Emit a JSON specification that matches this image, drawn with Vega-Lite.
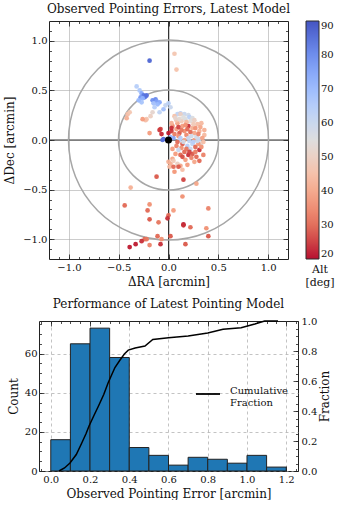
{
  "$schema": "https://vega.github.io/schema/vega-lite/v6.json",
  "padding": {"left": 3, "top": 2, "right": 0, "bottom": 0},
  "columns": 1,
  "bounds": "flush",
  "align": "each",
  "center": true,
  "spacing": 62,
  "datasets": {
    "scatter": [
      {"dRA": -0.19, "dDec": 0.80, "Alt": 86}, {"dRA": 0.06, "dDec": 0.87, "Alt": 47}, {"dRA": 0.08, "dDec": 0.71, "Alt": 46},
      {"dRA": -0.32, "dDec": 0.54, "Alt": 64}, {"dRA": -0.29, "dDec": 0.50, "Alt": 66}, {"dRA": -0.27, "dDec": 0.47, "Alt": 74},
      {"dRA": -0.25, "dDec": 0.45, "Alt": 83}, {"dRA": -0.23, "dDec": 0.44, "Alt": 85}, {"dRA": -0.24, "dDec": 0.43, "Alt": 82},
      {"dRA": -0.22, "dDec": 0.45, "Alt": 84}, {"dRA": -0.28, "dDec": 0.43, "Alt": 78}, {"dRA": -0.26, "dDec": 0.42, "Alt": 72},
      {"dRA": -0.27, "dDec": 0.38, "Alt": 67}, {"dRA": -0.30, "dDec": 0.40, "Alt": 70}, {"dRA": -0.16, "dDec": 0.40, "Alt": 79},
      {"dRA": -0.13, "dDec": 0.41, "Alt": 80}, {"dRA": -0.12, "dDec": 0.39, "Alt": 76}, {"dRA": -0.09, "dDec": 0.38, "Alt": 74},
      {"dRA": -0.11, "dDec": 0.36, "Alt": 70}, {"dRA": -0.15, "dDec": 0.37, "Alt": 68}, {"dRA": -0.14, "dDec": 0.33, "Alt": 64},
      {"dRA": -0.09, "dDec": 0.28, "Alt": 62}, {"dRA": -0.03, "dDec": 0.35, "Alt": 61}, {"dRA": 0.00, "dDec": 0.37, "Alt": 63},
      {"dRA": 0.02, "dDec": 0.33, "Alt": 60}, {"dRA": -0.05, "dDec": 0.31, "Alt": 68}, {"dRA": 0.09, "dDec": 0.26, "Alt": 62},
      {"dRA": 0.12, "dDec": 0.27, "Alt": 64}, {"dRA": 0.16, "dDec": 0.26, "Alt": 60}, {"dRA": 0.20, "dDec": 0.25, "Alt": 58},
      {"dRA": 0.21, "dDec": 0.23, "Alt": 63}, {"dRA": 0.24, "dDec": 0.22, "Alt": 56}, {"dRA": -0.41, "dDec": 0.26, "Alt": 45},
      {"dRA": -0.42, "dDec": 0.22, "Alt": 42}, {"dRA": -0.39, "dDec": 0.28, "Alt": 47}, {"dRA": -0.22, "dDec": 0.21, "Alt": 47},
      {"dRA": -0.18, "dDec": 0.24, "Alt": 50}, {"dRA": -0.16, "dDec": 0.28, "Alt": 52}, {"dRA": -0.23, "dDec": 0.20, "Alt": 45},
      {"dRA": -0.19, "dDec": 0.07, "Alt": 38}, {"dRA": -0.08, "dDec": 0.11, "Alt": 26}, {"dRA": -0.09, "dDec": 0.10, "Alt": 25},
      {"dRA": -0.07, "dDec": 0.06, "Alt": 23}, {"dRA": 0.00, "dDec": 0.07, "Alt": 22}, {"dRA": -0.05, "dDec": 0.01, "Alt": 86},
      {"dRA": -0.06, "dDec": 0.00, "Alt": 84}, {"dRA": -0.26, "dDec": 0.21, "Alt": 38},
      {"dRA": 0.06, "dDec": 0.24, "Alt": 46}, {"dRA": 0.12, "dDec": 0.26, "Alt": 50}, {"dRA": 0.17, "dDec": 0.21, "Alt": 56},
      {"dRA": 0.22, "dDec": 0.19, "Alt": 54}, {"dRA": 0.26, "dDec": 0.20, "Alt": 50}, {"dRA": 0.29, "dDec": 0.16, "Alt": 45},
      {"dRA": 0.09, "dDec": 0.17, "Alt": 40}, {"dRA": 0.14, "dDec": 0.14, "Alt": 38}, {"dRA": 0.20, "dDec": 0.14, "Alt": 24},
      {"dRA": 0.32, "dDec": 0.13, "Alt": 40}, {"dRA": 0.03, "dDec": 0.09, "Alt": 25}, {"dRA": 0.08, "dDec": 0.11, "Alt": 38},
      {"dRA": 0.11, "dDec": 0.07, "Alt": 28}, {"dRA": 0.16, "dDec": 0.09, "Alt": 36}, {"dRA": 0.26, "dDec": 0.07, "Alt": 40},
      {"dRA": 0.31, "dDec": 0.09, "Alt": 42}, {"dRA": 0.36, "dDec": 0.05, "Alt": 44}, {"dRA": 0.05, "dDec": 0.02, "Alt": 75},
      {"dRA": 0.11, "dDec": 0.00, "Alt": 62}, {"dRA": 0.16, "dDec": 0.00, "Alt": 40}, {"dRA": 0.21, "dDec": -0.01, "Alt": 62},
      {"dRA": 0.26, "dDec": 0.00, "Alt": 38}, {"dRA": 0.31, "dDec": 0.01, "Alt": 60}, {"dRA": 0.33, "dDec": -0.03, "Alt": 55},
      {"dRA": 0.09, "dDec": -0.02, "Alt": 30}, {"dRA": 0.14, "dDec": -0.04, "Alt": 28}, {"dRA": 0.19, "dDec": -0.06, "Alt": 64},
      {"dRA": 0.24, "dDec": -0.04, "Alt": 62}, {"dRA": 0.22, "dDec": -0.09, "Alt": 60}, {"dRA": 0.27, "dDec": -0.07, "Alt": 30},
      {"dRA": 0.31, "dDec": -0.10, "Alt": 24}, {"dRA": 0.16, "dDec": -0.12, "Alt": 30}, {"dRA": 0.07, "dDec": -0.14, "Alt": 38},
      {"dRA": 0.12, "dDec": -0.15, "Alt": 30}, {"dRA": 0.20, "dDec": -0.15, "Alt": 24}, {"dRA": 0.24, "dDec": -0.14, "Alt": 28},
      {"dRA": 0.04, "dDec": -0.19, "Alt": 40}, {"dRA": 0.09, "dDec": -0.24, "Alt": 50}, {"dRA": 0.12, "dDec": -0.26, "Alt": 40},
      {"dRA": 0.02, "dDec": -0.24, "Alt": 42}, {"dRA": 0.01, "dDec": -0.27, "Alt": 44}, {"dRA": 0.31, "dDec": -0.21, "Alt": 30},
      {"dRA": 0.35, "dDec": -0.15, "Alt": 34}, {"dRA": 0.05, "dDec": -0.27, "Alt": 30}, {"dRA": 0.10, "dDec": -0.27, "Alt": 28},
      {"dRA": 0.00, "dDec": -0.22, "Alt": 42}, {"dRA": 0.04, "dDec": 0.14, "Alt": 35}, {"dRA": 0.06, "dDec": 0.06, "Alt": 33},
      {"dRA": 0.10, "dDec": 0.04, "Alt": 36}, {"dRA": 0.13, "dDec": 0.10, "Alt": 32}, {"dRA": 0.18, "dDec": 0.05, "Alt": 35},
      {"dRA": 0.22, "dDec": 0.08, "Alt": 30}, {"dRA": 0.24, "dDec": 0.12, "Alt": 42}, {"dRA": 0.28, "dDec": 0.03, "Alt": 58},
      {"dRA": 0.30, "dDec": -0.04, "Alt": 37}, {"dRA": 0.34, "dDec": 0.02, "Alt": 39}, {"dRA": 0.18, "dDec": 0.18, "Alt": 44},
      {"dRA": 0.13, "dDec": 0.19, "Alt": 48}, {"dRA": 0.08, "dDec": 0.20, "Alt": 46}, {"dRA": 0.03, "dDec": 0.17, "Alt": 42},
      {"dRA": 0.27, "dDec": 0.12, "Alt": 36}, {"dRA": 0.20, "dDec": 0.02, "Alt": 60}, {"dRA": 0.15, "dDec": -0.02, "Alt": 58},
      {"dRA": 0.25, "dDec": -0.02, "Alt": 64}, {"dRA": 0.29, "dDec": -0.01, "Alt": 60}, {"dRA": 0.18, "dDec": -0.09, "Alt": 32},
      {"dRA": 0.13, "dDec": -0.08, "Alt": 36}, {"dRA": 0.08, "dDec": -0.06, "Alt": 34}, {"dRA": 0.04, "dDec": -0.09, "Alt": 38},
      {"dRA": 0.27, "dDec": -0.12, "Alt": 33}, {"dRA": 0.33, "dDec": -0.07, "Alt": 36}, {"dRA": 0.23, "dDec": -0.18, "Alt": 34},
      {"dRA": 0.17, "dDec": -0.20, "Alt": 38}, {"dRA": 0.28, "dDec": -0.17, "Alt": 30}, {"dRA": 0.14, "dDec": -0.30, "Alt": 45},
      {"dRA": 0.06, "dDec": -0.32, "Alt": 37}, {"dRA": 0.10, "dDec": -0.10, "Alt": 60}, {"dRA": 0.02, "dDec": 0.03, "Alt": 70},
      {"dRA": 0.12, "dDec": 0.02, "Alt": 64}, {"dRA": 0.07, "dDec": 0.22, "Alt": 52}, {"dRA": 0.15, "dDec": 0.23, "Alt": 55},
      {"dRA": 0.25, "dDec": 0.16, "Alt": 48}, {"dRA": 0.19, "dDec": 0.11, "Alt": 30}, {"dRA": 0.10, "dDec": 0.13, "Alt": 26},
      {"dRA": 0.21, "dDec": -0.12, "Alt": 26}, {"dRA": 0.03, "dDec": 0.12, "Alt": 24}, {"dRA": 0.17, "dDec": 0.15, "Alt": 36},
      {"dRA": 0.30, "dDec": 0.06, "Alt": 34}, {"dRA": 0.35, "dDec": -0.02, "Alt": 45}, {"dRA": 0.23, "dDec": 0.04, "Alt": 58},
      {"dRA": 0.11, "dDec": 0.21, "Alt": 53}, {"dRA": 0.36, "dDec": 0.10, "Alt": 42}, {"dRA": 0.33, "dDec": 0.17, "Alt": 44},
      {"dRA": 0.14, "dDec": -0.17, "Alt": 27}, {"dRA": 0.26, "dDec": -0.22, "Alt": 40}, {"dRA": 0.19, "dDec": -0.25, "Alt": 38},
      {"dRA": 0.05, "dDec": -0.21, "Alt": 48},
      {"dRA": -0.12, "dDec": -0.37, "Alt": 28}, {"dRA": 0.15, "dDec": -0.40, "Alt": 26}, {"dRA": 0.28, "dDec": -0.44, "Alt": 40},
      {"dRA": -0.38, "dDec": -0.48, "Alt": 42}, {"dRA": 0.14, "dDec": -0.57, "Alt": 36}, {"dRA": -0.44, "dDec": -0.66, "Alt": 30},
      {"dRA": -0.19, "dDec": -0.65, "Alt": 36}, {"dRA": -0.21, "dDec": -0.71, "Alt": 30}, {"dRA": 0.05, "dDec": -0.71, "Alt": 38},
      {"dRA": 0.40, "dDec": -0.69, "Alt": 34}, {"dRA": 0.00, "dDec": -0.76, "Alt": 30}, {"dRA": -0.01, "dDec": -0.79, "Alt": 24},
      {"dRA": -0.19, "dDec": -0.80, "Alt": 28}, {"dRA": -0.10, "dDec": -0.83, "Alt": 32}, {"dRA": 0.15, "dDec": -0.85, "Alt": 22},
      {"dRA": 0.15, "dDec": -0.86, "Alt": 24}, {"dRA": 0.22, "dDec": -0.88, "Alt": 30}, {"dRA": 0.38, "dDec": -0.89, "Alt": 36},
      {"dRA": 0.40, "dDec": -0.97, "Alt": 28}, {"dRA": -0.11, "dDec": -0.97, "Alt": 30}, {"dRA": 0.02, "dDec": -0.97, "Alt": 28},
      {"dRA": -0.07, "dDec": -1.00, "Alt": 36}, {"dRA": -0.24, "dDec": -1.00, "Alt": 30}, {"dRA": -0.22, "dDec": -1.00, "Alt": 32},
      {"dRA": -0.27, "dDec": -1.02, "Alt": 24}, {"dRA": -0.33, "dDec": -1.05, "Alt": 22}, {"dRA": -0.39, "dDec": -1.08, "Alt": 22},
      {"dRA": -0.19, "dDec": -1.06, "Alt": 34}, {"dRA": -0.08, "dDec": -1.05, "Alt": 24}, {"dRA": 0.17, "dDec": -1.05, "Alt": 28}
    ],
    "hist": [
      {"bin_start": 0.0, "bin_end": 0.1, "count": 16}, {"bin_start": 0.1, "bin_end": 0.2, "count": 65},
      {"bin_start": 0.2, "bin_end": 0.3, "count": 73}, {"bin_start": 0.3, "bin_end": 0.4, "count": 58},
      {"bin_start": 0.4, "bin_end": 0.5, "count": 12}, {"bin_start": 0.5, "bin_end": 0.6, "count": 8},
      {"bin_start": 0.6, "bin_end": 0.7, "count": 3}, {"bin_start": 0.7, "bin_end": 0.8, "count": 7},
      {"bin_start": 0.8, "bin_end": 0.9, "count": 6}, {"bin_start": 0.9, "bin_end": 1.0, "count": 4},
      {"bin_start": 1.0, "bin_end": 1.1, "count": 8}, {"bin_start": 1.1, "bin_end": 1.2, "count": 2}
    ],
    "cum": [
      {"err": 0.042, "frac": 0.0}, {"err": 0.07, "frac": 0.02}, {"err": 0.098, "frac": 0.053}, {"err": 0.13, "frac": 0.11},
      {"err": 0.158, "frac": 0.187}, {"err": 0.18, "frac": 0.25}, {"err": 0.195, "frac": 0.30}, {"err": 0.22, "frac": 0.37},
      {"err": 0.242, "frac": 0.43}, {"err": 0.27, "frac": 0.51}, {"err": 0.293, "frac": 0.59}, {"err": 0.31, "frac": 0.64},
      {"err": 0.327, "frac": 0.69}, {"err": 0.353, "frac": 0.74}, {"err": 0.375, "frac": 0.78}, {"err": 0.395, "frac": 0.806},
      {"err": 0.43, "frac": 0.82}, {"err": 0.48, "frac": 0.833}, {"err": 0.52, "frac": 0.877}, {"err": 0.6, "frac": 0.889},
      {"err": 0.7, "frac": 0.90}, {"err": 0.8, "frac": 0.92}, {"err": 0.878, "frac": 0.945}, {"err": 0.97, "frac": 0.955},
      {"err": 1.04, "frac": 0.98}, {"err": 1.09, "frac": 1.0}, {"err": 1.158, "frac": 1.0}
    ],
    "origin": [{"ra": 0, "dec": 0}],
    "rings": [{"ra": 0, "dec": 0, "radius": 0.5}, {"ra": 0, "dec": 0, "radius": 1.0}]
  },
  "concat": [
    {
      "width": 239,
      "height": 238,
      "title": {"text": "Observed Pointing Errors, Latest Model", "offset": 5},
      "layer": [
        {
          "data": {"name": "origin"},
          "mark": {"type": "rule", "color": "#333", "strokeWidth": 1},
          "encoding": {
            "x": {"field": "ra", "type": "quantitative", "scale": {"domain": [-1.2, 1.2], "nice": false, "zero": false},
              "axis": {"orient": "bottom", "values": [-1, -0.5, 0, 0.5, 1], "format": ".1f", "title": "ΔRA [arcmin]", "grid": true, "gridColor": "#aaaaaa", "gridOpacity": 0.6, "tickSize": -5, "labelPadding": 8, "domain": false}}
          }
        },
        {
          "data": {"name": "origin"},
          "mark": {"type": "rule", "color": "#333", "strokeWidth": 1},
          "encoding": {
            "y": {"field": "dec", "type": "quantitative", "scale": {"domain": [-1.2, 1.2], "nice": false, "zero": false},
              "axis": {"orient": "left", "values": [-1, -0.5, 0, 0.5, 1], "format": ".1f", "title": "ΔDec [arcmin]", "titlePadding": 6, "grid": true, "gridColor": "#aaaaaa", "gridOpacity": 0.6, "tickSize": -5, "labelPadding": 7, "domain": false}}
          }
        },
        {
          "data": {"name": "rings"},
          "mark": {"type": "point", "shape": "circle", "filled": false, "color": "#a6a6a6", "strokeWidth": 1.5, "opacity": 1},
          "encoding": {
            "x": {"field": "ra", "type": "quantitative", "scale": {"domain": [-1.2, 1.2], "nice": false, "zero": false},
              "axis": {"orient": "top", "values": [-1, -0.5, 0, 0.5, 1], "labels": false, "title": null, "grid": false, "tickSize": -5, "domain": false}},
            "y": {"field": "dec", "type": "quantitative", "scale": {"domain": [-1.2, 1.2], "nice": false, "zero": false},
              "axis": {"orient": "right", "values": [-1, -0.5, 0, 0.5, 1], "labels": false, "title": null, "grid": false, "tickSize": -5, "domain": false}},
            "size": {"field": "radius", "type": "quantitative", "scale": {"type": "pow", "exponent": 2, "domain": [0, 1], "range": [0, 40000]}, "legend": null}
          }
        },
        {
          "data": {"name": "scatter"},
          "mark": {"type": "circle", "size": 22, "opacity": 0.95},
          "encoding": {
            "x": {"field": "dRA", "type": "quantitative", "scale": {"domain": [-1.2, 1.2], "nice": false, "zero": false},
              "axis": {"orient": "bottom", "values": [-1.1, -1, -0.9, -0.8, -0.7, -0.6, -0.5, -0.4, -0.3, -0.2, -0.1, 0, 0.1, 0.2, 0.3, 0.4, 0.5, 0.6, 0.7, 0.8, 0.9, 1, 1.1], "labels": false, "title": null, "grid": false, "tickSize": -2.5, "domain": false}},
            "y": {"field": "dDec", "type": "quantitative", "scale": {"domain": [-1.2, 1.2], "nice": false, "zero": false},
              "axis": {"orient": "left", "values": [-1.1, -1, -0.9, -0.8, -0.7, -0.6, -0.5, -0.4, -0.3, -0.2, -0.1, 0, 0.1, 0.2, 0.3, 0.4, 0.5, 0.6, 0.7, 0.8, 0.9, 1, 1.1], "labels": false, "title": null, "grid": false, "tickSize": -2.5, "domain": false}},
            "color": {"field": "Alt", "type": "quantitative",
              "scale": {"type": "linear", "domain": [20, 90], "range": ["#b40426", "#de604d", "#f49a7b", "#f5c4ad", "#dddddd", "#b8d0f9", "#8db0fe", "#6282ea", "#3b4cc0"], "interpolate": "rgb"},
              "legend": {"type": "gradient", "orient": "right", "offset": 16, "gradientLength": 238, "gradientThickness": 13, "title": ["Alt", "[deg]"], "titleOrient": "bottom", "titleAlign": "center", "titleAnchor": "middle", "titleFontSize": 11, "titleFontWeight": "normal", "titlePadding": 4, "values": [20, 30, 40, 50, 60, 70, 80, 90], "labelFontSize": 10, "gradientStrokeColor": "#222", "gradientStrokeWidth": 1}}
          }
        },
        {
          "data": {"name": "origin"},
          "mark": {"type": "circle", "size": 50, "color": "#000", "opacity": 1},
          "encoding": {
            "x": {"field": "ra", "type": "quantitative", "scale": {"domain": [-1.2, 1.2], "nice": false, "zero": false},
              "axis": {"orient": "top", "values": [-1.1, -1, -0.9, -0.8, -0.7, -0.6, -0.5, -0.4, -0.3, -0.2, -0.1, 0, 0.1, 0.2, 0.3, 0.4, 0.5, 0.6, 0.7, 0.8, 0.9, 1, 1.1], "labels": false, "title": null, "grid": false, "tickSize": -2.5, "domain": false}},
            "y": {"field": "dec", "type": "quantitative", "scale": {"domain": [-1.2, 1.2], "nice": false, "zero": false},
              "axis": {"orient": "right", "values": [-1.1, -1, -0.9, -0.8, -0.7, -0.6, -0.5, -0.4, -0.3, -0.2, -0.1, 0, 0.1, 0.2, 0.3, 0.4, 0.5, 0.6, 0.7, 0.8, 0.9, 1, 1.1], "labels": false, "title": null, "grid": false, "tickSize": -2.5, "domain": false}}
          }
        }
      ],
      "resolve": {"axis": {"x": "independent", "y": "independent"}}
    },
    {
      "width": 259,
      "height": 150,
      "title": {"text": "Performance of Latest Pointing Model", "offset": 5},
      "layer": [
        {
          "data": {"name": "hist"},
          "mark": {"type": "bar", "fill": "#1f77b4", "stroke": "#222", "strokeWidth": 1},
          "encoding": {
            "x": {"field": "bin_start", "type": "quantitative", "scale": {"domain": [-0.06, 1.26], "nice": false, "zero": false},
              "axis": {"orient": "bottom", "values": [0, 0.2, 0.4, 0.6, 0.8, 1.0, 1.2], "format": ".1f", "title": "Observed Pointing Error [arcmin]", "grid": true, "gridDash": [3, 3], "gridColor": "#aaaaaa", "gridOpacity": 0.7, "tickSize": -5, "labelPadding": 8, "domain": false}},
            "x2": {"field": "bin_end"},
            "y": {"field": "count", "type": "quantitative", "scale": {"domain": [0, 76.65], "nice": false, "zero": true},
              "axis": {"orient": "left", "values": [0, 20, 40, 60], "title": "Count", "grid": true, "gridDash": [3, 3], "gridColor": "#aaaaaa", "gridOpacity": 0.7, "tickSize": -5, "labelPadding": 7, "domain": false}},
            "y2": {"datum": 0}
          }
        },
        {
          "data": {"name": "cum"},
          "mark": {"type": "line", "strokeWidth": 1.5},
          "encoding": {
            "x": {"field": "err", "type": "quantitative", "scale": {"domain": [-0.06, 1.26], "nice": false, "zero": false},
              "axis": {"orient": "bottom", "values": [-0.05, 0, 0.05, 0.1, 0.15, 0.2, 0.25, 0.3, 0.35, 0.4, 0.45, 0.5, 0.55, 0.6, 0.65, 0.7, 0.75, 0.8, 0.85, 0.9, 0.95, 1.0, 1.05, 1.1, 1.15, 1.2, 1.25], "labels": false, "title": null, "grid": false, "tickSize": -2.5, "domain": false}},
            "y": {"field": "frac", "type": "quantitative", "scale": {"domain": [0, 1], "nice": false, "zero": true},
              "axis": {"orient": "right", "values": [0, 0.2, 0.4, 0.6, 0.8, 1.0], "format": ".1f", "title": "Fraction", "titleAngle": 270, "titleBaseline": "top", "titlePadding": 3, "grid": false, "tickSize": -5, "labelPadding": 8, "domain": false}},
            "stroke": {"datum": "Cumulative Fraction", "type": "nominal", "scale": {"range": ["#000000"]},
              "legend": {"orient": "none", "legendX": 156, "legendY": 60, "title": null, "symbolType": "stroke", "symbolSize": 576, "symbolStrokeWidth": 1.8, "labelExpr": "['Cumulative', 'Fraction']", "labelBaseline": "alphabetic", "labelOffset": 9, "labelFontSize": 10}}
          }
        },
        {
          "data": {"name": "hist"},
          "mark": {"type": "point", "opacity": 0},
          "encoding": {
            "x": {"field": "bin_start", "type": "quantitative", "scale": {"domain": [-0.06, 1.26], "nice": false, "zero": false},
              "axis": {"orient": "top", "values": [0, 0.2, 0.4, 0.6, 0.8, 1.0, 1.2], "labels": false, "title": null, "grid": false, "tickSize": -5, "domain": false}},
            "y": {"field": "count", "type": "quantitative", "scale": {"domain": [0, 76.65], "nice": false, "zero": true},
              "axis": {"orient": "left", "values": [0, 5, 10, 15, 20, 25, 30, 35, 40, 45, 50, 55, 60, 65, 70, 75], "labels": false, "title": null, "grid": false, "tickSize": -2.5, "domain": false}}
          }
        },
        {
          "data": {"name": "cum"},
          "mark": {"type": "point", "opacity": 0},
          "encoding": {
            "x": {"field": "err", "type": "quantitative", "scale": {"domain": [-0.06, 1.26], "nice": false, "zero": false},
              "axis": {"orient": "top", "values": [-0.05, 0, 0.05, 0.1, 0.15, 0.2, 0.25, 0.3, 0.35, 0.4, 0.45, 0.5, 0.55, 0.6, 0.65, 0.7, 0.75, 0.8, 0.85, 0.9, 0.95, 1.0, 1.05, 1.1, 1.15, 1.2, 1.25], "labels": false, "title": null, "grid": false, "tickSize": -2.5, "domain": false}},
            "y": {"field": "frac", "type": "quantitative", "scale": {"domain": [0, 1], "nice": false, "zero": true},
              "axis": {"orient": "right", "values": [0, 0.05, 0.1, 0.15, 0.2, 0.25, 0.3, 0.35, 0.4, 0.45, 0.5, 0.55, 0.6, 0.65, 0.7, 0.75, 0.8, 0.85, 0.9, 0.95, 1.0], "labels": false, "title": null, "grid": false, "tickSize": -2.5, "domain": false}}
          }
        }
      ],
      "resolve": {"scale": {"y": "independent"}, "axis": {"x": "independent", "y": "independent"}}
    }
  ],
  "resolve": {"scale": {"color": "independent", "stroke": "independent", "size": "independent"}, "legend": {"color": "independent", "stroke": "independent"}},
  "config": {
    "font": "DejaVu Serif",
    "view": {"stroke": "#222", "strokeWidth": 1},
    "axis": {"labelFont": "DejaVu Serif", "titleFont": "DejaVu Serif", "labelFontSize": 10, "titleFontSize": 12, "titleFontWeight": "normal", "labelColor": "#111", "titleColor": "#111", "tickColor": "#222", "tickWidth": 0.8},
    "legend": {"labelFont": "DejaVu Serif", "titleFont": "DejaVu Serif", "labelColor": "#111", "titleColor": "#111"},
    "title": {"font": "DejaVu Serif", "fontSize": 12, "fontWeight": "normal", "color": "#111"}
  }
}
